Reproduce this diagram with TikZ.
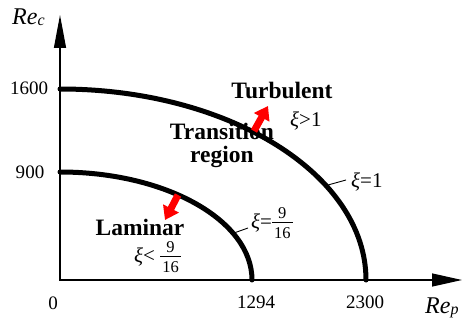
\documentclass[tikz,border=0pt]{standalone}
\usepackage{fontspec}
\setmainfont{Liberation Serif}
\usetikzlibrary{arrows.meta}
\newcommand\myfr[2]{$\vcenter{\fontsize{16.5}{16.5}\selectfont\offinterlineskip
  \halign{\hfil\kern2pt##\kern2pt\hfil\cr #1\cr\noalign{\kern4pt\hrule height 0.7pt\kern4pt}#2\cr}}$}
\tikzset{
  axisline/.style={line width=1.3pt, {Triangle[length=33pt,width=12pt]}-{Triangle[length=30pt,width=13pt]}},
  bound/.style={line width=5pt, line cap=round},
  leader/.style={line width=0.9pt},
  flow/.style={red, line width=7pt, -{Triangle[length=13pt,width=17pt]}},
  num/.style={inner sep=0pt, font=\fontsize{19}{22}\selectfont},
  region/.style={inner sep=0pt, font=\fontsize{23.5}{23}\selectfont\bfseries, align=center},
  cond/.style={inner sep=0pt, anchor=base west, font=\fontsize{21}{22}\selectfont},
  axlabel/.style={inner sep=0pt, anchor=base west, font=\fontsize{24}{26}\selectfont\itshape}
}
\begin{document}
\begin{tikzpicture}[x=1pt,y=-1pt]
\useasboundingbox (0,0) rectangle (462,320);
% axes
\coordinate (O) at (60,280);
\coordinate (ytip) at (60,15);
\coordinate (xtip) at (462,280);
\draw[axisline] (ytip) -- (O) -- (xtip);
% boundaries
\coordinate (outerTop) at (60,89);
\coordinate (innerTop) at (60,172);
\draw[bound] (outerTop) arc[start angle=-90, end angle=0, x radius=306, y radius=191];
\draw[bound] (innerTop) arc[start angle=-90, end angle=0, x radius=192, y radius=108];
% axis labels
\node[axlabel] (rec) at (12,25) {Re\raisebox{-1pt}{\fontsize{16}{16}\selectfont c}};
\node[axlabel] (rep) at (425,313) {Re\raisebox{-1pt}{\fontsize{16}{16}\selectfont p}};
% tick labels
\node[num] (t1600) at (29,88) {1600};
\node[num] (t900) at (30,172) {900};
\node[num] (t0) at (53,303) {0};
\node[num] (t1294) at (256,302) {1294};
\node[num] (t2300) at (365,302) {2300};
% region labels
\node[region, anchor=base] (turb) at (282,99) {Turbulent};
\node[region, anchor=base] (trans) at (222,163) {Transition\\region};
\node[region, anchor=base] (lam) at (140,235) {Laminar};
% conditions
\node[cond] (cTurb) at (290,127) {{\itshape ξ}>1};
\node[cond] (cOne) at (351,187) {{\itshape ξ}=1};
\node[cond] (cNine) at (251,228) {{\itshape ξ}=\myfr{9}{16}};
\node[cond] (cLam) at (134,262) {{\itshape ξ}< \myfr{9}{16}};
% leaders
\coordinate (lOneA) at (328,185);
\coordinate (lOneB) at (346,180);
\draw[leader] (lOneA) -- (lOneB);
\coordinate (lNineA) at (234,233);
\coordinate (lNineB) at (248,228);
\draw[leader] (lNineA) -- (lNineB);
% flow arrows
\coordinate (fTa) at (254,131);
\coordinate (fTb) at (268,106);
\draw[flow] (fTa) -- (fTb);
\coordinate (fLa) at (178,195);
\coordinate (fLb) at (165,220);
\draw[flow] (fLa) -- (fLb);
\end{tikzpicture}
\end{document}
